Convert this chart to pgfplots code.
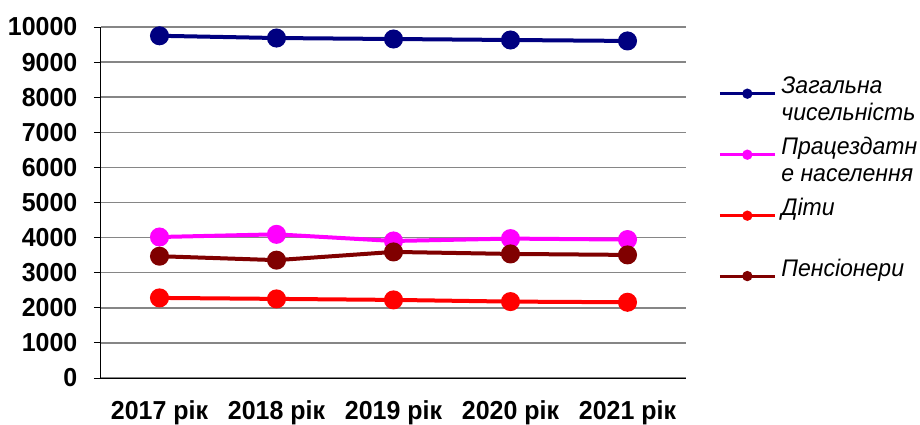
\documentclass[border=0pt]{standalone}
\usepackage{fontspec}
\setmainfont[FakeStretch=0.96]{Liberation Sans}
\usepackage{pgfplots}
\pgfplotsset{compat=1.18}
\definecolor{cBlue}{HTML}{000080}
\definecolor{cMag}{HTML}{FF00FF}
\definecolor{cRed}{HTML}{FF0000}
\definecolor{cBrown}{HTML}{800000}
\definecolor{cGrid}{HTML}{868686}
\begin{document}
\begin{tikzpicture}
\renewcommand{\arraystretch}{1}
\useasboundingbox (-50.5pt,-23pt) rectangle (409.5pt,189pt);
\begin{axis}[
  at={(0pt,0pt)}, anchor=south west,
  scale only axis,
  width=292.5pt, height=175.5pt,
  xmin=0.5, xmax=5.5, ymin=0, ymax=10000,
  axis x line*=bottom, axis y line*=left,
  axis line style={black, line width=0.5pt},
  xtick={1,2,3,4,5},
  xticklabels={2017 рік,2018 рік,2019 рік,2020 рік,2021 рік},
  major x tick style={draw=none},
  extra x ticks={0.5,1.5,2.5,3.5,4.5,5.5},
  extra x tick labels={},
  extra x tick style={grid=none, major tick length=3.5pt, tick style={draw=black, line width=0.5pt}},
  ytick={0,1000,...,10000},
  scaled y ticks=false,
  ymajorgrids,
  grid style={cGrid, line width=0.75pt},
  tick align=outside,
  major tick length=3.5pt,
  y tick style={black, line width=0.5pt},
  /pgf/number format/assume math mode=true,
  /pgf/number format/1000 sep={},
  ticklabel style={font=\bfseries\fontsize{13}{15}\selectfont},
  yticklabel style={xshift=-4.8pt},
  xticklabel style={yshift=-4.3pt},
  legend style={at={(1.0546,0.865)}, anchor=north west, draw=none, fill=none, inner sep=0pt,
    font=\itshape\fontsize{12}{13.5}\selectfont,
    row sep=3.5pt, column sep=2.5pt, nodes={inner sep=0pt, text depth=, anchor=base west}},
  legend cell align=left,
  legend image code/.code={%
    \draw[#1, line width=1.5pt, mark=none] (0pt,0pt) -- (27.5pt,0pt);
    \fill[#1, draw=none] (13.75pt,0pt) circle (2.6pt);},
]
\addplot[cBlue, line width=2pt, mark=*, mark size=3.75pt, mark options={fill=cBlue, draw=cBlue}]
  coordinates {(1,9750) (2,9686) (3,9658) (4,9630) (5,9603)};
\addlegendentry{\begin{tabular}[t]{@{}l@{}}Загальна\\чисельність\end{tabular}}
\addplot[cMag, line width=2pt, mark=*, mark size=3.75pt, mark options={fill=cMag, draw=cMag}]
  coordinates {(1,4017) (2,4093) (3,3904) (4,3972) (5,3944)};
\addlegendentry{\begin{tabular}[t]{@{}l@{}}Працездатн\\е населення\end{tabular}}
\addplot[cRed, line width=2pt, mark=*, mark size=3.75pt, mark options={fill=cRed, draw=cRed}]
  coordinates {(1,2282) (2,2254) (3,2225) (4,2177) (5,2158)};
\addlegendentry{\begin{tabular}[t]{@{}l@{}}Діти\\\rule[-4.5pt]{0pt}{9.45pt}\end{tabular}}
\addplot[cBrown, line width=2pt, mark=*, mark size=3.75pt, mark options={fill=cBrown, draw=cBrown}]
  coordinates {(1,3470) (2,3358) (3,3592) (4,3535) (5,3507)};
\addlegendentry{Пенсіонери}
\end{axis}
\end{tikzpicture}
\end{document}
